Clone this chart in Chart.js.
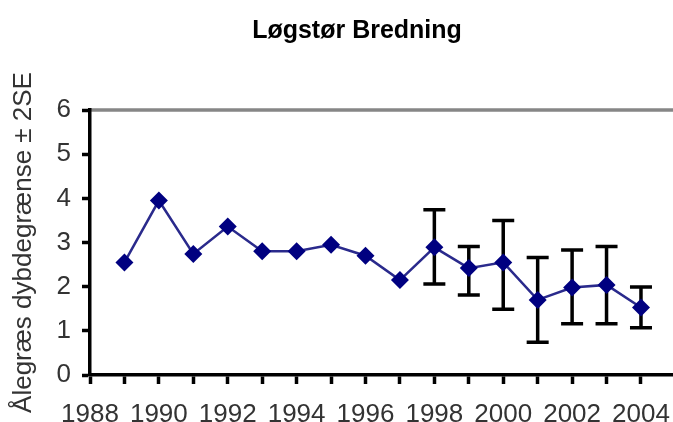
<!DOCTYPE html>
<html>
<head>
<meta charset="utf-8">
<script src="https://cdn.jsdelivr.net/npm/chart.js@4"></script>
<style>
  html, body { margin: 0; padding: 0; background: #fff; }
  #wrap { width: 673px; height: 422px; }
</style>
</head>
<body>
<div id="wrap"><canvas id="myChart" width="673" height="422"></canvas></div>
<script>
let years = [1989, 1990, 1991, 1992, 1993, 1994, 1995, 1996, 1997, 1998, 1999, 2000, 2001, 2002, 2003, 2004];
let depth = [2.55, 3.95, 2.74, 3.36, 2.80, 2.80, 2.95, 2.70, 2.15, 2.89, 2.42, 2.55, 1.70, 1.98, 2.04, 1.53];
// +/- 2SE limits, only surveyed from 1998 on
let upper = [null, null, null, null, null, null, null, null, null, 3.74, 2.91, 3.50, 2.66, 2.83, 2.91, 1.99];
let lower = [null, null, null, null, null, null, null, null, null, 2.06, 1.81, 1.49, 0.74, 1.16, 1.16, 1.07];
let xTicks = [1988, 1989, 1990, 1991, 1992, 1993, 1994, 1995, 1996, 1997, 1998, 1999, 2000, 2001, 2002, 2003, 2004];
let yTicks = [0, 1, 2, 3, 4, 5, 6];

let fontFam = "'Liberation Sans', Arial, sans-serif";
let points = years.map((y, i) => ({ x: y, y: depth[i] }));

// black I-beam error bars, drawn under the markers
let errorBars = {
    id: 'errorBars',
    beforeDatasetsDraw(chart) {
        let c = chart.ctx;
        let xs = chart.scales.x, ys = chart.scales.y;
        c.save();
        c.strokeStyle = '#000';
        c.lineWidth = 3.5;
        years.forEach((yr, i) => {
            if (upper[i] == null) return;
            let px = xs.getPixelForValue(yr);
            let top = ys.getPixelForValue(upper[i]);
            let bot = ys.getPixelForValue(lower[i]);
            c.beginPath();
            c.moveTo(px, top); c.lineTo(px, bot);
            c.moveTo(px - 11, top); c.lineTo(px + 11, top);
            c.moveTo(px - 11, bot); c.lineTo(px + 11, bot);
            c.stroke();
        });
        c.restore();
    }
};

// grey frame along the top of the plot, plus the heading over it
let frameTop = {
    id: 'frameTop',
    beforeDraw(chart) {
        let a = chart.chartArea, c = chart.ctx;
        c.save();
        c.strokeStyle = '#868686';
        c.lineWidth = 3.5;
        c.beginPath();
        c.moveTo(a.left, a.top);
        c.lineTo(a.right, a.top);
        c.stroke();
        c.fillStyle = '#000';
        c.font = 'bold 25px ' + fontFam;
        c.textAlign = 'center';
        c.textBaseline = 'middle';
        c.fillText('Løgstør Bredning', 357, 31);
        c.restore();
    }
};

let ctx = document.getElementById('myChart').getContext('2d');
let myChart = new Chart(ctx, {
    type: 'line',
    data: {
        datasets: [{
            data: points,
            borderColor: '#2a2a8c',
            borderWidth: 2.5,
            backgroundColor: '#000080',
            pointStyle: 'rectRot',
            pointRadius: 9,
            pointBorderWidth: 0,
            pointBackgroundColor: '#000080',
            tension: 0,
            clip: false
        }]
    },
    options: {
        responsive: false,
        animation: false,
        layout: { autoPadding: false, padding: { top: 110, left: 0, right: 0, bottom: 0 } },
        plugins: {
            legend: { display: false },
            tooltip: { enabled: false },
            title: { display: false }
        },
        scales: {
            x: {
                type: 'linear',
                min: 1988,
                max: 2004.93,
                afterFit: (s) => { s.height = 47; s.paddingRight = 0; },
                afterBuildTicks: (s) => {
                    s.ticks = xTicks.map(v => ({ value: v }));
                },
                border: { color: '#000', width: 3.5 },
                grid: {
                    drawOnChartArea: false,
                    drawTicks: true,
                    tickLength: 9,
                    tickWidth: 3.5,
                    tickColor: '#000'
                },
                ticks: {
                    autoSkip: false,
                    maxRotation: 0,
                    padding: 15,
                    color: '#333',
                    font: { family: fontFam, size: 26 },
                    callback: (v) => (v % 2 === 0 ? String(v) : '')
                }
            },
            y: {
                min: 0,
                max: 6,
                afterFit: (s) => { s.width = 90; },
                afterBuildTicks: (s) => {
                    s.ticks = yTicks.map(v => ({ value: v }));
                },
                border: { color: '#000', width: 3.5 },
                grid: {
                    drawOnChartArea: false,
                    tickLength: 8,
                    tickWidth: 3.5,
                    tickColor: '#000'
                },
                ticks: {
                    padding: 11,
                    color: '#333',
                    font: { family: fontFam, size: 26 }
                },
                title: {
                    display: true,
                    text: 'Ålegræs dybdegrænse ± 2SE',
                    color: '#333',
                    font: { family: fontFam, size: 26 },
                    padding: { top: 8, bottom: 0 }
                }
            }
        }
    },
    plugins: [frameTop, errorBars]
});
</script>
</body>
</html>
